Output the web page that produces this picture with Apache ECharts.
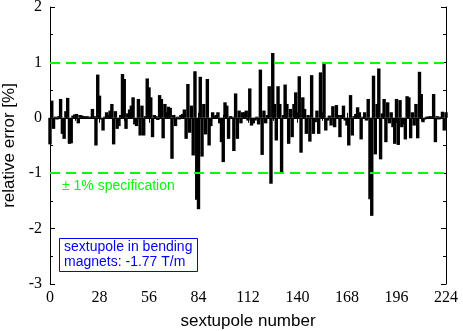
<!DOCTYPE html>
<html>
<head>
<meta charset="utf-8">
<script src="https://cdn.jsdelivr.net/npm/echarts@6/dist/echarts.min.js"></script>
<style>
  html, body { margin: 0; padding: 0; background: #fff; }
  #chart { width: 463px; height: 331px; }
</style>
</head>
<body>
<div id="chart"></div>
<script>
// relative error [%] of each sextupole, index = sextupole number
const errors = [
  -0.48, 0.31, -0.20, 0.02, -0.03, 0.03, 0.34, -0.29, -0.38, 0.12,
  0.36, -0.47, -0.46, 0.04, 0.06, 0.07, -0.10, 0.05, 0.04, 0.03,
  0.02, 0.03, 0.01, 0.02, 0.16, 0.03, -0.50, 0.78, 0.40, -0.03,
  -0.23, 0.02, 0.10, 0.05, 0.13, 0.25, -0.48, 0.12, -0.20, -0.15,
  0.05, 0.79, 0.70, -0.20, 0.08, 0.15, 0.22, 0.37, -0.12, -0.15,
  0.34, -0.32, 0.22, -0.32, 0.03, 0.71, 0.55, 0.37, -0.35, 0.05,
  0.03, -0.04, 0.41, 0.34, -0.37, 0.25, 0.10, 0.20, 0.18, -0.74,
  0.05, -0.15, 0.02, -0.03, 0.05, 0.07, 0.15, -0.38, 0.61, -0.27,
  0.22, -0.68, 0.84, -1.48, -1.65, 0.74, -0.70, 0.25, -0.30, 0.70,
  -0.50, -0.15, 0.10, 0.03, 0.05, 0.10, -0.10, -0.44, -0.80, 0.28,
  0.22, -0.38, 0.03, 0.02, -0.60, 0.44, -0.38, 0.13, -0.10, 0.10,
  0.10, 0.13, -0.05, 0.53, -0.14, -0.10, -0.05, 0.02, -0.12, 0.87,
  -0.67, 0.13, -0.10, 0.05, 0.57, -1.19, 1.17, 0.25, -0.41, 0.57,
  0.25, -1.00, 0.05, 0.60, 0.25, -0.47, 0.16, -0.35, 0.25, 0.46,
  0.10, 0.75, -0.63, 0.37, 0.16, -0.29, 0.05, -0.43, 0.77, -0.29,
  -0.08, 0.13, -0.29, 0.82, 0.10, 0.97, -0.23, -0.05, 0.04, -0.14,
  0.21, -0.17, 0.23, 0.05, -0.35, 0.05, 0.22, -0.05, -0.14, -0.50,
  0.41, -0.32, 0.03, 0.07, 0.19, 0.10, -0.39, 0.02, 0.10, -0.05,
  0.34, -1.47, -1.77, 0.76, -0.66, 0.25, 0.89, -0.75, 0.08, 0.34,
  -0.44, 0.28, -0.10, 0.10, -0.17, -0.47, 0.34, -0.49, 0.32, -0.17,
  -0.12, -0.39, 0.39, 0.37, -0.37, 0.10, -0.14, 0.25, -0.37, 0.83,
  0.43, -0.08, -0.03, 0.02, 0.02, 0.03, 0.02, 0.43, -0.44, 0.03,
  -0.03, 0.02, 0.11, -0.23, 0.10
]
const specLimits = [1, -1]
const specLabel = '\u00b1 1% specification'
const noteText = 'sextupole in bending\nmagnets: -1.77 T/m'

const chart = echarts.init(document.getElementById('chart'))

const serif = 'Liberation Serif'
const sans = 'Liberation Sans'

const baseX = {
  type: 'value',
  min: 0,
  max: 224,
  interval: 28,
  splitLine: { show: false },
  axisLine: { show: true, lineStyle: { color: '#000', width: 1 } },
  axisTick: { show: true, inside: true, length: 5, lineStyle: { color: '#000' } },
  minorTick: { show: true, splitNumber: 2, length: 3, lineStyle: { color: '#000' } },
  minorSplitLine: { show: false }
}
const baseY = {
  type: 'value',
  min: -3,
  max: 2,
  interval: 1,
  splitLine: { show: false },
  axisLine: { show: true, onZero: false, lineStyle: { color: '#000', width: 1 } },
  axisTick: { show: true, inside: true, length: 5, lineStyle: { color: '#000' } },
  minorTick: { show: true, splitNumber: 2, length: 3, lineStyle: { color: '#000' } },
  minorSplitLine: { show: false }
}

const option = {
  animation: false,
  backgroundColor: '#fff',
  grid: { left: 50, right: 17, top: 7, bottom: 47, outerBoundsMode: 'none', containLabel: false },
  title: {
    text: noteText,
    left: 59,
    top: 238,
    padding: [2, 5, 2, 5],
    borderColor: '#0000ff',
    borderWidth: 1,
    backgroundColor: '#fff',
    textStyle: {
      fontFamily: sans,
      fontSize: 14,
      fontWeight: 'normal',
      color: '#0000ff',
      lineHeight: 15
    }
  },
  xAxis: [
    Object.assign({}, baseX, {
      position: 'bottom',
      name: 'sextupole number',
      nameLocation: 'middle',
      nameGap: 29,
      nameTextStyle: { fontFamily: sans, fontSize: 17, color: '#000' },
      axisLabel: { fontFamily: serif, fontSize: 16, color: '#000', margin: 6 }
    }),
    Object.assign({}, baseX, { position: 'top', axisLabel: { show: false } })
  ],
  yAxis: [
    Object.assign({}, baseY, {
      position: 'left',
      name: 'relative error [%]',
      nameLocation: 'middle',
      nameGap: 27,
      nameTextStyle: { fontFamily: sans, fontSize: 17, color: '#000' },
      axisLabel: { fontFamily: serif, fontSize: 16, color: '#000', margin: 8 }
    }),
    Object.assign({}, baseY, { position: 'right', axisLabel: { show: false } })
  ],
  series: [
    {
      type: 'bar',
      data: errors.map((v, i) => [i, v]),
      barWidth: 3.4,
      clip: true,
      itemStyle: { color: '#000' },
      markLine: {
        silent: true,
        symbol: 'none',
        lineStyle: { color: '#00ff00', width: 2, type: [10, 6] },
        data: specLimits.map((v) => ({
          yAxis: v,
          label: v < 0
            ? {
                show: true,
                position: 'insideStartBottom',
                formatter: specLabel,
                color: '#00ff00',
                fontFamily: sans,
                fontSize: 14,
                distance: [12, 6]
              }
            : { show: false }
        }))
      }
    }
  ]
}

chart.setOption(option)
</script>
</body>
</html>
